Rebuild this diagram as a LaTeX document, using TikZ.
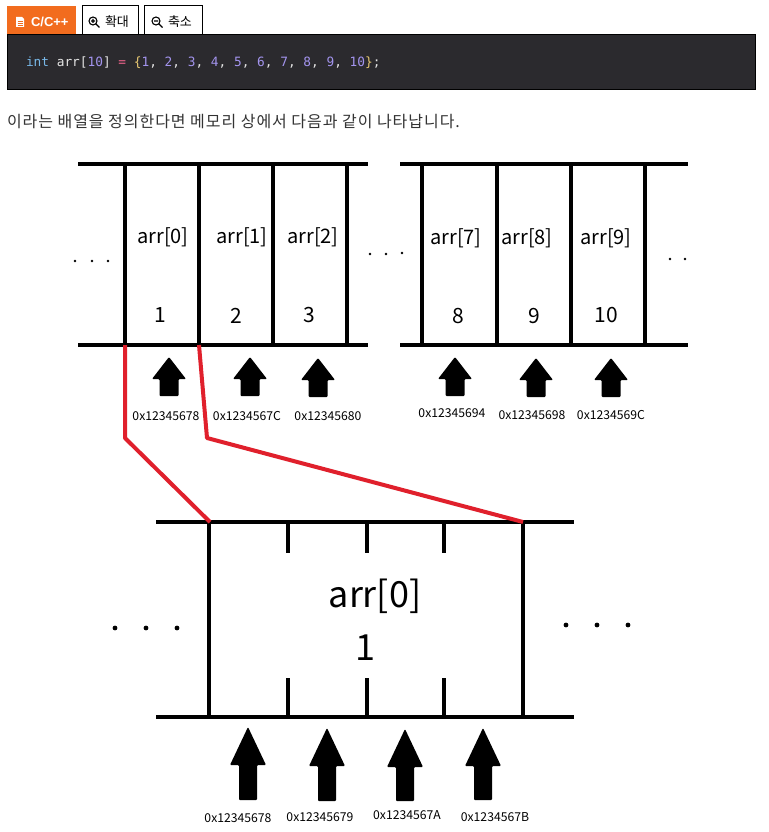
\documentclass[tikz,border=0pt]{standalone}
\usepackage{fontspec}
\setmainfont{Noto Sans CJK KR}
\setmonofont{DejaVu Sans Mono}
\newfontfamily\tabfont{Liberation Sans}
\newfontfamily\introfont[LetterSpace=6]{Noto Sans CJK KR}
\usetikzlibrary{positioning}

\definecolor{tabOrange}{HTML}{F26C1E}
\definecolor{codeBg}{HTML}{2B2A2E}
\definecolor{codeWhite}{HTML}{E4E4E4}
\definecolor{kwBlue}{HTML}{78B8E8}
\definecolor{numPurple}{HTML}{A394EE}
\definecolor{opPink}{HTML}{F0648C}
\definecolor{braceGold}{HTML}{E8C872}
\definecolor{linkRed}{HTML}{E0202C}
\definecolor{bodyGray}{HTML}{333333}

\tikzset{
    x = 1pt,
    y = -1pt,
    every node/.style = {
        inner sep = 0pt,
        outer sep = 0pt
    },
    tabbox/.style = {
        draw = black,
        line width = 1pt
    },
    tablabel/.style = {
        anchor = west,
        font = \fontsize{13}{13}\selectfont
    },
    wall/.style = {
        line width = 4pt
    },
    cell/.style = {
        font = \fontsize{20}{20}\selectfont
    },
    value/.style = {
        font = \fontsize{21}{21}\selectfont
    },
    bigcell/.style = {
        font = \fontsize{36}{36}\selectfont
    },
    addr/.style = {
        font = \fontsize{12.2}{12}\selectfont
    },
    blockarrow/.style = {
        fill = black,
        rounded corners = 1pt
    },
    link/.style = {
        draw = linkRed,
        line width = 4pt,
        line join = round
    }
}

% x, tip, head base, bottom, head half width, shaft half width
\newcommand\memarrow[6]{%
    \fill[blockarrow] (#1,#2) -- (#1+#5,#3) -- (#1+#6,#3) -- (#1+#6,#4)
        -- (#1-#6,#4) -- (#1-#6,#3) -- (#1-#5,#3) -- cycle;
}
\newcommand\cnum[1]{\textcolor{numPurple}{#1}}

\begin{document}
\begin{tikzpicture}
    \useasboundingbox (0,0) rectangle (768,832);
    \fill[white] (0,0) rectangle (768,832);

    % tabs and code box
    \fill[tabOrange] (7,6) rectangle (76,35);
    \draw[tabbox, fill=white] (82,6) rectangle (138,35);
    \draw[tabbox, fill=white] (144,6) rectangle (202,35);
    \draw[tabbox, fill=codeBg] (7,35) rectangle (755,90);

    \fill[white] (16,17) -- (22,17) -- (24,19) -- (24,27) -- (16,27) -- cycle;
    \draw[tabOrange, line width=0.8pt] (17.5,21) -- (22.5,21) (17.5,23) -- (22.5,23) (17.5,25) -- (22.5,25);
    \node (lang) at (31,21.5) [tablabel, text=white]{\tabfont\bfseries C/C++};

    \draw[line width=1.1pt] (93,21) circle (4) (96,24) -- (99.5,27.5) (91,21) -- (95,21) (93,19) -- (93,23);
    \node (zoomin) at (105,21.5) [tablabel]{확대};
    \draw[line width=1.1pt] (156,21) circle (4) (159,24) -- (162.5,27.5) (154,21) -- (158,21);
    \node (zoomout) at (168,21.5) [tablabel]{축소};

    \node (code) at (26,63) [anchor=west, font=\ttfamily\fontsize{12.8}{13}\selectfont]{\color{codeWhite}\textcolor{kwBlue}{int} arr[\cnum{10}] \textcolor{opPink}{=} \textcolor{braceGold}{\{}\cnum{1}, \cnum{2}, \cnum{3}, \cnum{4}, \cnum{5}, \cnum{6}, \cnum{7}, \cnum{8}, \cnum{9}, \cnum{10}\textcolor{braceGold}{\}};};

    \node (intro) at (7,122) [anchor=west, text=bodyGray, font=\introfont\fontsize{16}{16}\selectfont]{이라는 배열을 정의한다면 메모리 상에서 다음과 같이 나타납니다.};

    % top memory, left part
    \draw[wall] (78,164) -- (368,164) (78,345) -- (368,345);
    \draw[wall] (125,164) -- (125,345) (199,164) -- (199,345) (273,164) -- (273,345) (347,164) -- (347,345);
    \node (c0) at (163,237) [cell]{arr[0]};
    \node (c1) at (242,237) [cell]{arr[1]};
    \node (c2) at (313,237) [cell]{arr[2]};
    \node (v0) at (160,315) [value]{1};
    \node (v1) at (236,316) [value]{2};
    \node (v2) at (309,315) [value]{3};

    % top memory, right part
    \draw[wall] (400,164) -- (688,164) (400,345) -- (688,345);
    \draw[wall] (422,164) -- (422,345) (497,164) -- (497,345) (571,164) -- (571,345) (645,164) -- (645,345);
    \node (c7) at (456,238) [cell]{arr[7]};
    \node (c8) at (527,238) [cell]{arr[8]};
    \node (c9) at (606,238) [cell]{arr[9]};
    \node (v7) at (458,316) [value]{8};
    \node (v8) at (534,316) [value]{9};
    \node (v9) at (606,315) [value]{10};

    \fill (75,261) circle (1.4) (92,261) circle (1.4) (108,261) circle (1.4);
    \fill (370,254) circle (1.4) (386,254) circle (1.4) (402,253) circle (1.4);
    \fill (670,259) circle (1.4) (685,259) circle (1.4);

    \memarrow{169}{357}{379}{396}{17}{9.5}
    \memarrow{250}{357}{379}{396}{17}{9.5}
    \memarrow{318}{358}{380}{397}{17}{9.5}
    \memarrow{455}{357}{379}{396}{17}{9.5}
    \memarrow{536}{358}{380}{397}{17}{9.5}
    \memarrow{611}{358}{380}{397}{17}{9.5}
    \node (a0) at (166,416) [addr]{0x12345678};
    \node (a1) at (247,416) [addr]{0x1234567C};
    \node (a2) at (328,416) [addr]{0x12345680};
    \node (a7) at (452,413) [addr]{0x12345694};
    \node (a8) at (532,415) [addr]{0x12345698};
    \node (a9) at (611,415) [addr]{0x1234569C};

    % arr[0] byte by byte
    \draw[wall] (156,522) -- (574,522) (156,717) -- (574,717);
    \draw[wall] (209,522) -- (209,717) (523,522) -- (523,717);
    \draw[wall] (288,522) -- (288,553) (367,522) -- (367,553) (444,522) -- (444,553);
    \draw[wall] (288,678) -- (288,717) (367,678) -- (367,717) (444,678) -- (444,717);
    \node (big) at (375,596) [bigcell]{arr[0]};
    \node (bigv) at (365,648) [bigcell]{1};

    \fill (115,628) circle (2.4) (146,628) circle (2.4) (177,628) circle (2.4);
    \fill (566,625) circle (2.4) (597,625) circle (2.4) (628,625) circle (2.4);

    \memarrow{248}{727}{765}{800}{18}{9}
    \memarrow{327}{728}{766}{801}{18}{9}
    \memarrow{405}{729}{767}{801}{18}{9}
    \memarrow{483}{728}{766}{800}{18}{9}
    \node (b0) at (238,818) [addr]{0x12345678};
    \node (b1) at (320,817) [addr]{0x12345679};
    \node (b2) at (407,815) [addr]{0x1234567A};
    \node (b3) at (495,817) [addr]{0x1234567B};

    % red links
    \coordinate (c0sw) at (125,345);
    \coordinate (c0se) at (199,345);
    \coordinate (bendl) at (125,438);
    \coordinate (bendr) at (207,438);
    \coordinate (bignw) at (210,522);
    \coordinate (bigne) at (523,522);
    \draw[link] (c0sw) -- (bendl) -- (bignw);
    \draw[link] (c0se) -- (bendr) -- (bigne);
\end{tikzpicture}
\end{document}
